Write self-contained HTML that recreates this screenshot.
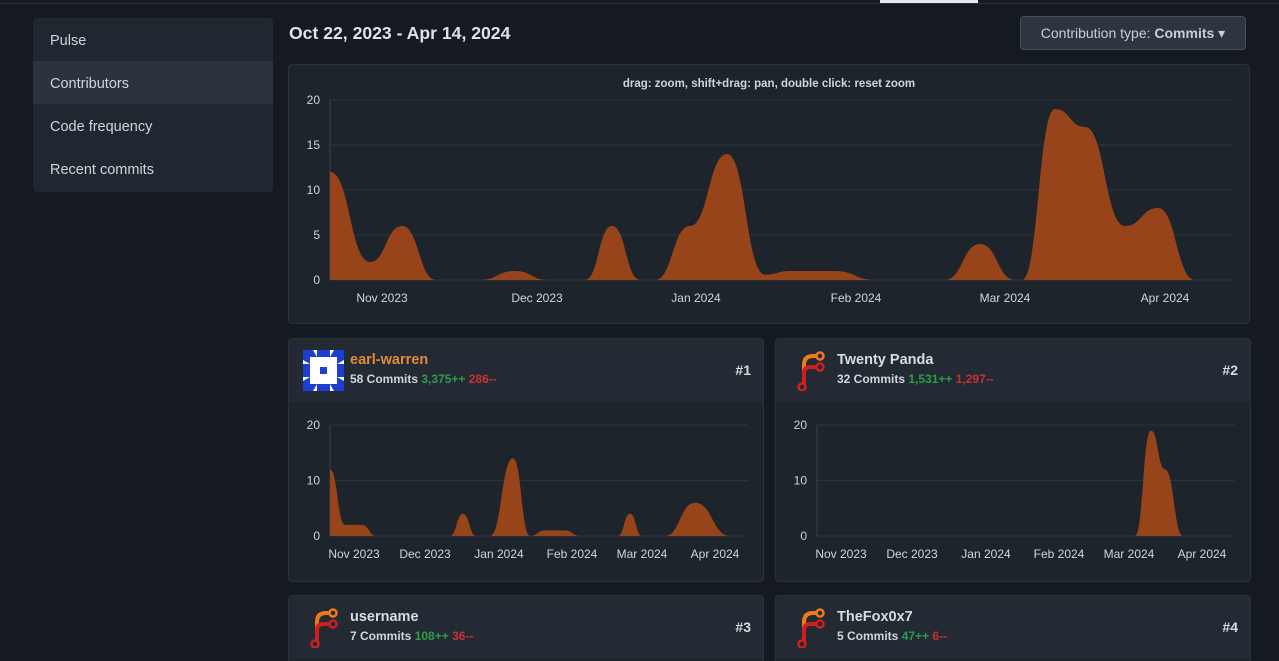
<!DOCTYPE html>
<html><head><meta charset="utf-8"><style>
html,body{margin:0;width:1279px;height:661px;overflow:hidden}
body{background:#151a21;font-family:"Liberation Sans",sans-serif;position:relative;color:#d1d5db}
.top{position:absolute;left:0;top:0;width:1279px;height:3px;border-bottom:1px solid #2a313b}
.tab{position:absolute;left:880px;top:0;width:98px;height:3px;background:#e5e7eb}
.menu{position:absolute;left:33px;top:18px;width:240px;height:174px;background:#202731;border-radius:4px;overflow:hidden}
.menu div{height:43px;line-height:47px;padding-left:17px;font-size:14.5px;color:#d1d5db}
.menu .act{background:#2b333e}
.title{position:absolute;left:289px;top:23px;font-size:17.6px;font-weight:bold;color:#dfe3e8}
.btn{position:absolute;left:1020px;top:16px;width:224px;height:32px;background:#2d3541;border:1px solid #454e5a;border-radius:4px;font-size:14px;line-height:33px;text-align:center;color:#c9ced6}
.panel{position:absolute;background:#1e242c;border:1px solid #2a313a;border-radius:4px}
.card{position:absolute;background:#1e242c;border:1px solid #2a313a;border-radius:4px;overflow:hidden}
.ch{height:63px;background:#232a33;position:relative}
.name{position:absolute;left:61px;top:13px;font-size:14.5px;font-weight:bold;color:#d8dce2}
.sub{position:absolute;left:61px;top:33px;font-size:12px;font-weight:bold;color:#d1d5db}
.g{color:#2f9b4a}.r{color:#c73232}
.rank{position:absolute;right:12px;top:23px;font-size:14px;font-weight:bold;color:#d8dce2}
svg text{font-family:"Liberation Sans",sans-serif;font-size:12px;fill:#d1d5db}
</style></head><body>
<div class="top"></div><div class="tab"></div>
<div class="menu"><div>Pulse</div><div class="act">Contributors</div><div>Code frequency</div><div>Recent commits</div></div>
<div class="title">Oct 22, 2023 - Apr 14, 2024</div>
<div class="btn">Contribution type: <b>Commits</b> ▾</div>
<div class="panel" style="left:288px;top:64px;width:960px;height:258px"></div>
<div class="card" style="left:288px;top:338px;width:474px;height:242px"><div class="ch">
<svg style="position:absolute;left:14px;top:11px" width="41" height="41" viewBox="0 0 41 41"><rect width="41" height="41" fill="#fff"/><rect x="14" y="0" width="13" height="7" fill="#1c3fd0"/><rect x="14" y="34" width="13" height="7" fill="#1c3fd0"/><rect x="0" y="14" width="7" height="13" fill="#1c3fd0"/><rect x="34" y="14" width="7" height="13" fill="#1c3fd0"/><path d="M0 0H10L14 7H7V14L0 10Z M41 0H31L27 7H34V14L41 10Z M0 41H10L14 34H7V27L0 31Z M41 41H31L27 34H34V27L41 31Z" fill="#1c3fd0"/><rect x="17" y="17" width="7" height="7" fill="#1c3fd0"/></svg>
<div class="name" style="color:#e08a3c">earl-warren</div><div class="sub">58 Commits <span class="g">3,375++</span> <span class="r">286--</span></div><div class="rank">#1</div></div></div>
<div class="card" style="left:775px;top:338px;width:474px;height:242px"><div class="ch"><svg class="logo" style="position:absolute;left:20px;top:12px" width="30" height="40" viewBox="0 0 30 40"><path d="M8 38V14Q8 5 17 5H23" stroke="#f07a1a" stroke-width="4" fill="none"/><circle cx="24" cy="5" r="3.5" stroke="#f07a1a" stroke-width="2.5" fill="#232a33"/><path d="M8 22Q8 16 15 16H23" stroke="#d01e1e" stroke-width="4" fill="none"/><circle cx="24" cy="16" r="3.5" stroke="#d01e1e" stroke-width="2.5" fill="#232a33"/><path d="M8 20V34" stroke="#d01e1e" stroke-width="4"/><circle cx="6" cy="36" r="3.5" stroke="#d01e1e" stroke-width="2.5" fill="#232a33"/></svg>
<div class="name">Twenty Panda</div><div class="sub">32 Commits <span class="g">1,531++</span> <span class="r">1,297--</span></div><div class="rank">#2</div></div></div>
<div class="card" style="left:288px;top:595px;width:474px;height:80px"><div class="ch"><svg style="position:absolute;left:20px;top:12px" width="30" height="40" viewBox="0 0 30 40"><path d="M8 38V14Q8 5 17 5H23" stroke="#f07a1a" stroke-width="4" fill="none"/><circle cx="24" cy="5" r="3.5" stroke="#f07a1a" stroke-width="2.5" fill="#232a33"/><path d="M8 22Q8 16 15 16H23" stroke="#d01e1e" stroke-width="4" fill="none"/><circle cx="24" cy="16" r="3.5" stroke="#d01e1e" stroke-width="2.5" fill="#232a33"/><path d="M8 20V34" stroke="#d01e1e" stroke-width="4"/><circle cx="6" cy="36" r="3.5" stroke="#d01e1e" stroke-width="2.5" fill="#232a33"/></svg>
<div class="name">username</div><div class="sub">7 Commits <span class="g">108++</span> <span class="r">36--</span></div><div class="rank">#3</div></div></div>
<div class="card" style="left:775px;top:595px;width:474px;height:80px"><div class="ch"><svg style="position:absolute;left:20px;top:12px" width="30" height="40" viewBox="0 0 30 40"><path d="M8 38V14Q8 5 17 5H23" stroke="#f07a1a" stroke-width="4" fill="none"/><circle cx="24" cy="5" r="3.5" stroke="#f07a1a" stroke-width="2.5" fill="#232a33"/><path d="M8 22Q8 16 15 16H23" stroke="#d01e1e" stroke-width="4" fill="none"/><circle cx="24" cy="16" r="3.5" stroke="#d01e1e" stroke-width="2.5" fill="#232a33"/><path d="M8 20V34" stroke="#d01e1e" stroke-width="4"/><circle cx="6" cy="36" r="3.5" stroke="#d01e1e" stroke-width="2.5" fill="#232a33"/></svg>
<div class="name">TheFox0x7</div><div class="sub">5 Commits <span class="g">47++</span> <span class="r">6--</span></div><div class="rank">#4</div></div></div>
<svg id="s" width="1279" height="661" style="position:absolute;left:0;top:0">
<text x="769" y="87" text-anchor="middle" style="font-weight:bold;font-size:11.5px">drag: zoom, shift+drag: pan, double click: reset zoom</text>
</svg>
<script>
var s=document.getElementById('s'),NS='http://www.w3.org/2000/svg';
function el(t,a,txt){var e=document.createElementNS(NS,t);for(var k in a)e.setAttribute(k,a[k]);if(txt)e.textContent=txt;s.appendChild(e);}
function chart(x0,x1,y0,y20,ticks,yt,xl,pts){
 var sc=(y0-y20)/20;
 yt.forEach(function(v){var y=y0-v*sc;el('line',{x1:x0,x2:x1,y1:y,y2:y,stroke:'#2c333c'});el('text',{x:x0-10,y:y+4,'text-anchor':'end'},''+v);});
 el('line',{x1:x0,x2:x0,y1:y20,y2:y0,stroke:'#3a414b'});
 var P=pts.map(function(p){return [p[0],y0-p[1]*sc];});
 var d='M'+P[0][0]+' '+y0+'L'+P[0][0]+' '+P[0][1];
 for(var i=0;i<P.length-1;i++){var a=P[i],b=P[i+1],m=(b[0]-a[0])/2;d+='C'+(a[0]+m)+' '+a[1]+' '+(b[0]-m)+' '+b[1]+' '+b[0]+' '+b[1];}
 d+='L'+P[P.length-1][0]+' '+y0+'Z';
 el('path',{d:d,fill:'#98441b'});
 xl.forEach(function(l){el('text',{x:l[0],y:y0+22,'text-anchor':'middle'},l[1]);});
}
chart(330,1233,280,100,0,[0,5,10,15,20],[[382,'Nov 2023'],[537,'Dec 2023'],[696,'Jan 2024'],[856,'Feb 2024'],[1005,'Mar 2024'],[1165,'Apr 2024']],
[[330,12],[370,2],[402,6],[436,0],[480,0],[515,1],[548,0],[585,0],[612,6],[640,0],[655,0],[690,6],[727,14],[765,0.6],[790,1],[835,1],[875,0],[945,0],[980,4],[1015,0],[1022,0],[1055,19],[1085,17],[1125,6],[1158,8],[1195,0]]);
chart(330,748,536,425,0,[0,10,20],[[354,'Nov 2023'],[425,'Dec 2023'],[499,'Jan 2024'],[572,'Feb 2024'],[642,'Mar 2024'],[715,'Apr 2024']],
[[330,12],[345,2],[362,2],[376,0],[450,0],[463,4],[476,0],[490,0],[513,14],[530,0],[545,1],[565,1],[580,0],[618,0],[630,4],[642,0],[665,0],[695,6],[730,0]]);
chart(817,1235,536,425,0,[0,10,20],[[841,'Nov 2023'],[912,'Dec 2023'],[986,'Jan 2024'],[1059,'Feb 2024'],[1129,'Mar 2024'],[1202,'Apr 2024']],
[[1135,0],[1151,19],[1165,12],[1183,0]]);
</script>
</body></html>
